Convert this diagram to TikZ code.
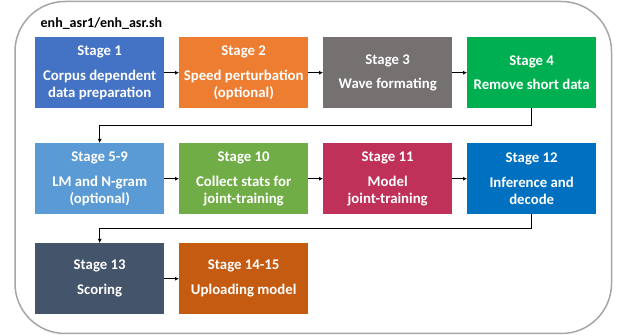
\documentclass[tikz,border=0pt]{standalone}
\usepackage{fontspec}
\setmainfont{Carlito}
\usetikzlibrary{arrows.meta}
\definecolor{c1}{HTML}{4472C4}
\definecolor{c2}{HTML}{ED7D31}
\definecolor{c3}{HTML}{767171}
\definecolor{c4}{HTML}{00B050}
\definecolor{c5}{HTML}{5B9BD5}
\definecolor{c10}{HTML}{70AD47}
\definecolor{c11}{HTML}{BF3159}
\definecolor{c12}{HTML}{0070C0}
\definecolor{c13}{HTML}{44546A}
\definecolor{c14}{HTML}{C55A11}
\definecolor{frame}{HTML}{A6A6A6}
\begin{document}
\begin{tikzpicture}[x=1pt,y=-1pt,
  stagebox/.style={fill=#1, minimum width=129pt, minimum height=71pt, inner sep=0pt,
    text=white, font=\bfseries\fontsize{14.8}{17}\selectfont, align=center, anchor=north west},
  conn/.style={draw=black, line width=1pt, -{Latex[length=4pt,width=4pt]}}
]
\useasboundingbox (0,0) rectangle (619,336);
\fill[white] (0,0) rectangle (619,336);
\draw[frame, line width=1.5pt, rounded corners=50pt] (15,1.5) rectangle (611.5,333.5);
\node[anchor=base west, inner sep=0pt, font=\bfseries\fontsize{14}{17}\selectfont] (title) at (40.5,27.5) {enh\_asr1/enh\_asr.sh};

\node[stagebox=c1] (s1) at (35,37) {Stage 1\\[8pt]Corpus dependent\\data preparation};
\node[stagebox=c2] (s2) at (179,37) {Stage 2\\[8pt]Speed perturbation\\(optional)};
\node[stagebox=c3] (s3) at (323,37) {Stage 3\\[7pt]Wave formating};
\node[stagebox=c4] (s4) at (467,37) {Stage 4\\[7pt]Remove short data};

\node[stagebox=c5] (s5) at (35,143) {Stage 5-9\\[8pt]LM and N-gram\\(optional)};
\node[stagebox=c10] (s10) at (179,143) {Stage 10\\[8pt]Collect stats for\\joint-training};
\node[stagebox=c11] (s11) at (323,143) {Stage 11\\[8pt]Model\\joint-training};
\node[stagebox=c12] (s12) at (467,143) {Stage 12\\[8pt]Inference and\\decode};

\node[stagebox=c13] (s13) at (35,243) {Stage 13\\[8pt]Scoring};
\node[stagebox=c14] (s14) at (179,243) {Stage 14-15\\[8pt]Uploading model};

\draw[conn] (s1) -- (s2);
\draw[conn] (s2) -- (s3);
\draw[conn] (s3) -- (s4);
\draw[conn] (s4.south) -- ++(0,17.5) -| (s5.north);
\draw[conn] (s5) -- (s10);
\draw[conn] (s10) -- (s11);
\draw[conn] (s11) -- (s12);
\draw[conn] (s12.south) -- ++(0,14.5) -| (s13.north);
\draw[conn] (s13) -- (s14);
\end{tikzpicture}
\end{document}
